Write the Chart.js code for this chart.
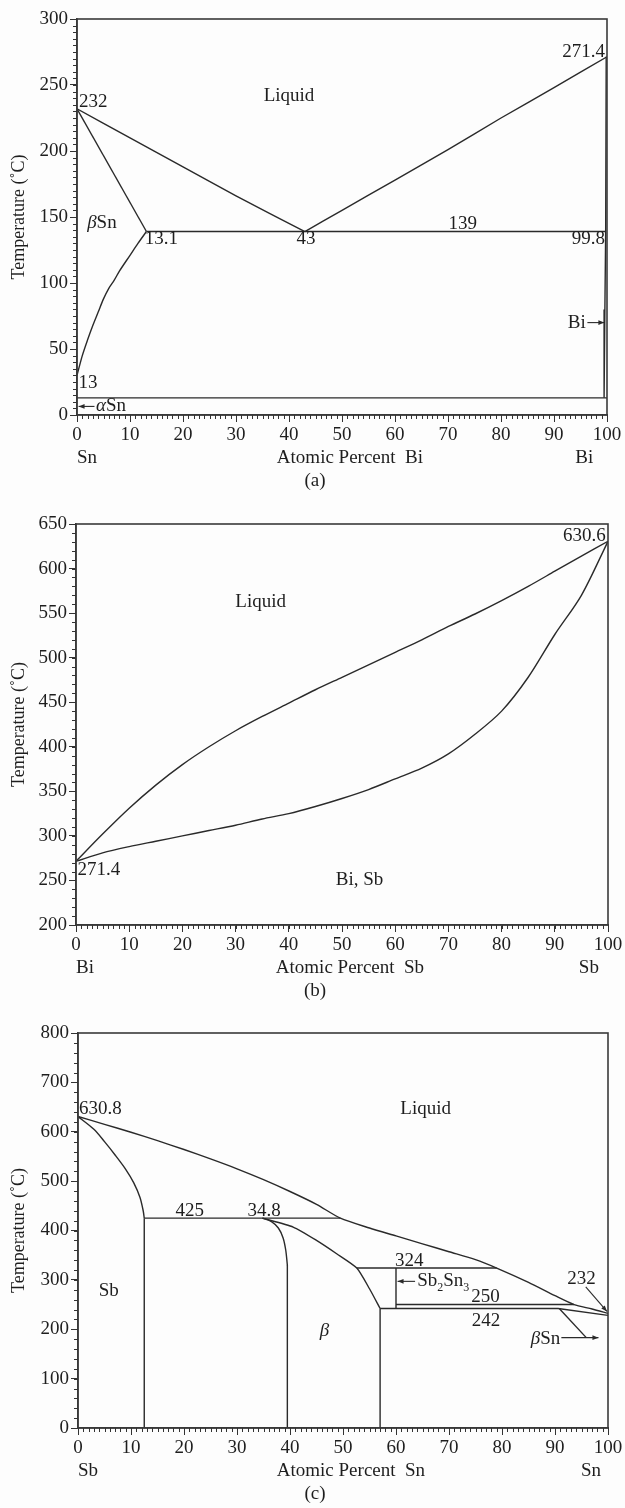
<!DOCTYPE html>
<html lang="en">
<head>
<meta charset="UTF-8">
<title>Sn-Bi, Bi-Sb, Sb-Sn phase diagrams</title>
<script src="https://cdn.jsdelivr.net/npm/chart.js@4.4.1/dist/chart.umd.min.js"></script>
<style>
  body { margin: 0; background: #fdfdfd; }
  #page { position: relative; width: 625px; height: 1508px; }
  .panel { position: absolute; left: 0; width: 625px; }
</style>
</head>
<body>
<div id="page">
  <div class="panel" style="top:0;height:505px"><canvas id="chart-a"></canvas></div>
  <div class="panel" style="top:505px;height:500px"><canvas id="chart-b"></canvas></div>
  <div class="panel" style="top:1005px;height:503px"><canvas id="chart-c"></canvas></div>
</div>
<script>
// ---- (a) Sn-Bi : [atomic % Bi, temperature C]
const aLiquidusSn = [[0,232],[10,210],[20,188],[30,166],[43,139]];
const aLiquidusBi = [[43,139],[50,155],[60,178],[70,201],[80,225],[90,248],[100,271.4]];
const aSolidusSn = [[0,232],[13.1,139]];
const aSolvusSn = [[13.1,139],[11.5,130],[10,121],[8,109],[7,102],[6,96],[5,88],[4,78],[3,68],[2,57],[1,45],[0,30]];
const aSolvusBi = [[99.85,271.4],[99.75,139],[99.6,80],[99.45,13]];
const aEutectic = [[13.1,139],[99.8,139]];
const aAlphaBeta = [[0,13],[100,13]];
const aArrowBi = [[96.3,70],[99.5,70]];
const aArrowAlpha = [[3.3,6.5],[0.3,6.5]];
const aLabels = ['Liquid','232','271.4','139','*β*Sn','13.1','43','99.8','13','Bi','*α*Sn'];
const aLabelX = [40, 0.4, 99.6, 72.8, 4.7, 12.8, 43.2, 99.6, 0.3, 96.0, 3.6];
const aLabelY = [242, 237, 275, 144.5, 145.5, 133.5, 133.5, 133.5, 24.5, 70, 6.5];
const aLabelAlign = ['center','left','right','center','center','left','center','right','left','right','left'];

// ---- (b) Bi-Sb : [atomic % Sb, temperature C]
const bLiquidus = [[0,271.4],[5,302],[10,331],[15,357],[20,380],[25,400],[30,418],[35,434],[40,449],[45,464],[50,478],[55,492],[60,506],[65,520],[70,535],[75,549],[80,564],[85,580],[90,597],[95,614],[100,630.6]];
const bSolidus = [[0,271.4],[5,281],[10,288],[15,294],[20,300],[25,306],[30,312],[35,319],[40,325],[45,333],[50,342],[55,352],[60,364],[65,376],[70,392],[75,414],[80,440],[85,478],[90,526],[95,570],[100,630.6]];
const bLabels = ['Liquid','630.6','271.4','Bi, Sb'];
const bLabelX = [34.7, 99.6, 0.3, 53.3];
const bLabelY = [563, 636.5, 261.4, 250];
const bLabelAlign = ['center','right','left','center'];

// ---- (c) Sb-Sn : [atomic % Sn, temperature C]
const cLiquidus = [[0,630.8],[5,615],[10,599],[15,582],[20,564],[25,545],[30,525],[35,503],[40,479],[45,453],[49.5,425],[55,405],[60,389],[65,373],[70,357],[75,341],[79,324],[85,295],[90,268],[93.6,250],[97,241],[100,232]];
const cSbSolvus = [[0,630.8],[3,605],[5,580],[7,553],[9,524],[10.5,497],[11.7,467],[12.3,440],[12.5,425]];
const cSbVertical = [[12.5,425],[12.5,0]];
const cLine425 = [[12.5,425],[49.5,425]];
const cBetaLeft = [[34.8,425],[36.5,418],[37.8,405],[38.7,385],[39.2,360],[39.5,330]];
const cBetaLeftV = [[39.5,330],[39.5,0]];
const cBetaRight = [[34.8,425],[40.6,407],[45,380],[48.8,353],[52.6,324],[55,282],[57,242]];
const cBetaRightV = [[57,242],[57,0]];
const cLine324 = [[52.6,324],[79,324]];
const cSb2Sn3 = [[60,324],[60,242]];
const cLine250 = [[60,250],[93.6,250]];
const cLine242 = [[57,242],[90.6,242],[100,228]];
const cArrowSb2Sn3 = [[63.6,297],[60.3,297]];
const cArrow232 = [[95.8,286],[99.8,236]];
const cArrowBetaSn = [[91.2,183],[98.2,183]];
const cLeaderBetaSn = [[95.9,183],[90.8,242]];
const cLabels = ['Liquid','630.8','425','34.8','324','Sb','*β*','Sb_2Sn_3','250','242','232','*β*Sn'];
const cLabelX = [65.6, 0.2, 21.1, 35.1, 62.5, 5.8, 46.5, 64.0, 76.9, 77.0, 95.0, 91.0];
const cLabelY = [647, 645.7, 438.6, 438.6, 339, 278, 197, 297, 265, 217, 302, 180];
const cLabelAlign = ['center','left','center','center','center','center','center','left','center','center','center','right'];

const ink = '#2a2a2a';
const fontFamily = '"Liberation Serif", "Times New Roman", serif';

// per-panel text and axis names
const panels = {
  'chart-a': { labels: aLabels, lx: aLabelX, ly: aLabelY, la: aLabelAlign,
    ends: ['Sn', 'Bi'], endBX: 95.7, title: 'Atomic Percent  Bi', caption: '(a)', minorY: 5 },
  'chart-b': { labels: bLabels, lx: bLabelX, ly: bLabelY, la: bLabelAlign,
    ends: ['Bi', 'Sb'], endBX: 96.4, title: 'Atomic Percent  Sb', caption: '(b)', minorY: 10 },
  'chart-c': { labels: cLabels, lx: cLabelX, ly: cLabelY, la: cLabelAlign,
    ends: ['Sb', 'Sn'], endBX: 96.8, title: 'Atomic Percent  Sn', caption: '(c)', minorY: 20 }
};

// text with *italic* parts and _x subscripts
function drawRich(ctx, text, x, y, align, size) {
  const parts = [];
  let i = 0;
  while (i < text.length) {
    if (text[i] === '*') {
      const j = text.indexOf('*', i + 1);
      parts.push({ t: text.slice(i + 1, j), it: true });
      i = j + 1;
    } else if (text[i] === '_') {
      parts.push({ t: text[i + 1], sub: true });
      i += 2;
    } else {
      let j = i;
      while (j < text.length && text[j] !== '*' && text[j] !== '_') j++;
      parts.push({ t: text.slice(i, j) });
      i = j;
    }
  }
  const fontFor = p => (p.it ? 'italic ' : '') + (p.sub ? Math.round(size * 0.62) : size) + 'px ' + fontFamily;
  let w = 0;
  parts.forEach(p => { ctx.font = fontFor(p); p.w = ctx.measureText(p.t).width; w += p.w; });
  let cx = align === 'left' ? x : align === 'right' ? x - w : x - w / 2;
  ctx.textAlign = 'left';
  ctx.textBaseline = 'middle';
  parts.forEach(p => {
    ctx.font = fontFor(p);
    ctx.fillText(p.t, cx, p.sub ? y + size * 0.32 : y);
    cx += p.w;
  });
}

const decor = {
  id: 'decor',
  afterDatasetsDraw(chart) {
    const cfg = panels[chart.canvas.id];
    const ctx = chart.ctx;
    const xs = chart.scales.x, ys = chart.scales.y, area = chart.chartArea;
    ctx.save();

    // arrow heads
    chart.data.datasets.forEach((ds, i) => {
      if (!ds.arrow) return;
      const pts = chart.getDatasetMeta(i).data;
      const a = pts[pts.length - 2], b = pts[pts.length - 1];
      const ang = Math.atan2(b.y - a.y, b.x - a.x);
      const L = 6, W = 2.3;
      ctx.fillStyle = ink;
      ctx.beginPath();
      ctx.moveTo(b.x, b.y);
      ctx.lineTo(b.x - L * Math.cos(ang) + W * Math.sin(ang), b.y - L * Math.sin(ang) - W * Math.cos(ang));
      ctx.lineTo(b.x - L * Math.cos(ang) - W * Math.sin(ang), b.y - L * Math.sin(ang) + W * Math.cos(ang));
      ctx.closePath();
      ctx.fill();
    });

    // frame round the plot
    ctx.strokeStyle = '#3a3a3a';
    ctx.lineWidth = 1.6;
    ctx.strokeRect(area.left, area.top, area.right - area.left, area.bottom - area.top);

    // minor ticks
    ctx.lineWidth = 1;
    ctx.strokeStyle = '#333';
    ctx.beginPath();
    for (let v = 0; v <= 100; v += 1) {
      const px = Math.round(xs.getPixelForValue(v)) + 0.5;
      ctx.moveTo(px, area.bottom);
      ctx.lineTo(px, area.bottom + 4);
    }
    for (let v = ys.min; v <= ys.max; v += cfg.minorY) {
      const py = Math.round(ys.getPixelForValue(v)) + 0.5;
      ctx.moveTo(area.left, py);
      ctx.lineTo(area.left - 4, py);
    }
    ctx.stroke();

    // labels inside the plot
    ctx.fillStyle = '#1e1e1e';
    cfg.labels.forEach((t, i) => {
      drawRich(ctx, t, xs.getPixelForValue(cfg.lx[i]), ys.getPixelForValue(cfg.ly[i]), cfg.la[i], 19);
    });

    // axis names, caption and y title
    const yName = area.bottom + 43;
    drawRich(ctx, cfg.ends[0], area.left, yName, 'left', 19);
    drawRich(ctx, cfg.ends[1], xs.getPixelForValue(cfg.endBX), yName, 'center', 19);
    drawRich(ctx, cfg.title, xs.getPixelForValue(51.5), yName, 'center', 19);
    drawRich(ctx, cfg.caption, 315, area.bottom + 66, 'center', 19);

    ctx.translate(19, (area.top + area.bottom) / 2);
    ctx.rotate(-Math.PI / 2);
    drawRich(ctx, 'Temperature (˚C)', 0, 0, 'center', 18);
    ctx.restore();
  }
};

function line(points, tension, arrow) {
  return {
    data: points.map(p => ({ x: p[0], y: p[1] })),
    showLine: true,
    pointRadius: 0,
    borderColor: ink,
    borderWidth: arrow ? 1.1 : 1.4,
    tension: tension || 0,
    arrow: !!arrow
  };
}

function makeChart(id, datasets, yMax, yMin, yStep, leftW, rightPad, topPad, plotH, canvasH) {
  const tickFont = { family: fontFamily, size: 19 };
  return new Chart(document.getElementById(id), {
    type: 'scatter',
    data: { datasets: datasets },
    options: {
      animation: false,
      responsive: true,
      maintainAspectRatio: false,
      layout: { padding: { top: topPad, right: rightPad, left: 0, bottom: 0 } },
      plugins: { legend: { display: false }, tooltip: { enabled: false } },
      scales: {
        x: {
          type: 'linear', min: 0, max: 100,
          ticks: { stepSize: 10, padding: 2, color: '#1e1e1e', font: tickFont, maxRotation: 0, autoSkip: false },
          grid: { drawOnChartArea: false, tickLength: 7, color: '#333', lineWidth: 1 },
          border: { color: '#3a3a3a', width: 1.6 },
          afterFit: s => { s.height = canvasH - topPad - plotH; }
        },
        y: {
          type: 'linear', min: yMin, max: yMax,
          ticks: { stepSize: yStep, padding: 2, color: '#1e1e1e', font: tickFont, autoSkip: false },
          grid: { drawOnChartArea: false, tickLength: 7, color: '#333', lineWidth: 1 },
          border: { color: '#3a3a3a', width: 1.6 },
          afterFit: s => { s.width = leftW; }
        }
      }
    },
    plugins: [decor]
  });
}

makeChart('chart-a', [
  line(aLiquidusSn, 0.2), line(aLiquidusBi, 0.2), line(aSolidusSn), line(aSolvusSn, 0.3),
  line(aSolvusBi), line(aEutectic), line(aAlphaBeta),
  line(aArrowBi, 0, true), line(aArrowAlpha, 0, true)
], 300, 0, 50, 77, 18, 19, 396, 505);

makeChart('chart-b', [
  line(bLiquidus, 0.3), line(bSolidus, 0.3)
], 650, 200, 50, 76, 17, 19, 401, 500);

makeChart('chart-c', [
  line(cLiquidus, 0.25), line(cSbSolvus, 0.3), line(cSbVertical), line(cLine425),
  line(cBetaLeft, 0.3), line(cBetaLeftV), line(cBetaRight, 0.2), line(cBetaRightV),
  line(cLine324), line(cSb2Sn3), line(cLine250), line(cLine242),
  line(cLeaderBetaSn, 0, false),
  line(cArrowSb2Sn3, 0, true), line(cArrow232, 0, true), line(cArrowBetaSn, 0, true)
], 800, 0, 100, 78, 17, 28, 395, 503);
</script>
</body>
</html>
